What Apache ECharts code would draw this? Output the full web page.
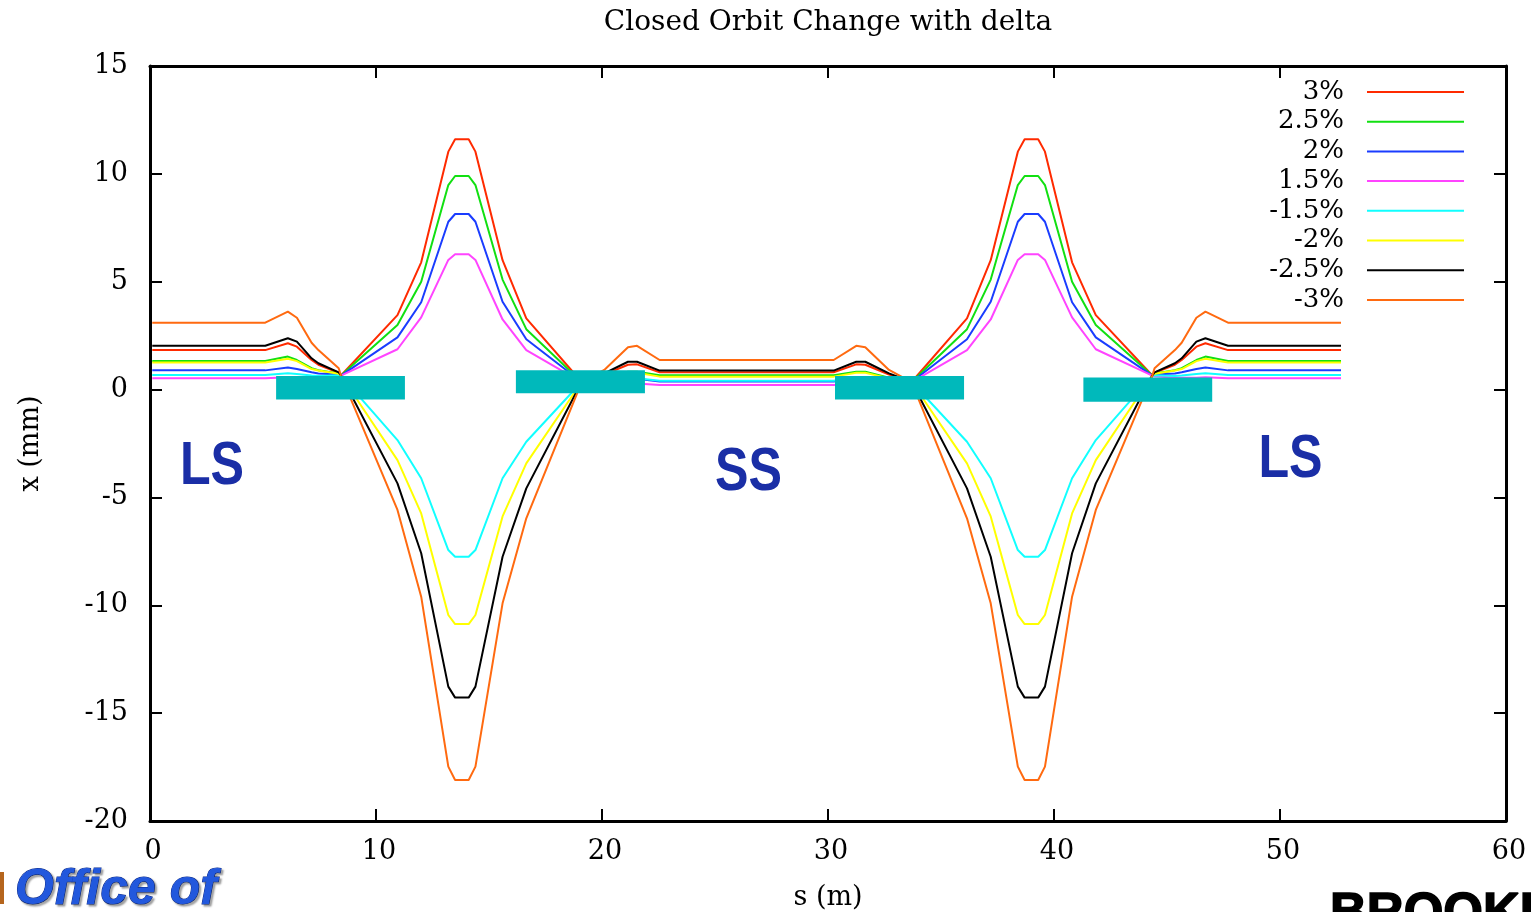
<!DOCTYPE html>
<html>
<head>
<meta charset="utf-8">
<script src="https://cdn.jsdelivr.net/npm/echarts@6/dist/echarts.min.js"></script>
<style>
html,body{margin:0;padding:0;background:#fff;}
#chart{width:1531px;height:912px;}
</style>
</head>
<body>
<div id="chart"></div>
<script>
// s positions (m) of the orbit sample points
const sPos = [0.1, 5.1, 6.1, 6.5, 7.15, 7.45, 8.35, 8.45, 10.95, 12.0, 13.2, 13.5, 14.1, 14.4, 15.6, 16.65, 19.1, 20.1, 21.15, 21.55, 22.55,
              30.25, 31.25, 31.65, 32.7, 33.7, 36.15, 37.2, 38.4, 38.7, 39.3, 39.6, 40.8, 41.85, 44.35, 44.45, 45.35, 45.65, 46.3, 46.7, 47.7, 52.7];

const seriesNames = ['3%', '2.5%', '2%', '1.5%', '-1.5%', '-2%', '-2.5%', '-3%'];

const x_p30 = [1.83, 1.83, 2.15, 1.99, 1.37, 1.15, 0.78, 0.65, 3.45, 5.9, 11.03, 11.6, 11.6, 11.03, 6.0, 3.3, 0.35, 0.70, 1.15, 1.17, 0.80,
               0.80, 1.17, 1.15, 0.70, 0.35, 3.3, 6.0, 11.03, 11.6, 11.6, 11.03, 5.9, 3.45, 0.65, 0.78, 1.15, 1.37, 1.99, 2.15, 1.83, 1.83];
const x_p25 = [1.32, 1.32, 1.53, 1.37, 0.99, 0.90, 0.74, 0.65, 2.99, 5.0, 9.48, 9.9, 9.9, 9.48, 5.1, 2.8, 0.35, 0.55, 0.83, 0.83, 0.66,
               0.66, 0.83, 0.83, 0.55, 0.35, 2.8, 5.1, 9.48, 9.9, 9.9, 9.48, 5.0, 2.99, 0.65, 0.74, 0.90, 0.99, 1.37, 1.53, 1.32, 1.32];
const x_p20 = [0.89, 0.89, 1.02, 0.95, 0.80, 0.75, 0.70, 0.65, 2.42, 4.05, 7.78, 8.14, 8.14, 7.78, 4.07, 2.33, 0.35, 0.42, 0.50, 0.50, 0.37,
               0.37, 0.50, 0.50, 0.42, 0.35, 2.33, 4.07, 7.78, 8.14, 8.14, 7.78, 4.05, 2.42, 0.65, 0.70, 0.75, 0.80, 0.95, 1.02, 0.89, 0.89];
const x_p15 = [0.52, 0.52, 0.57, 0.55, 0.55, 0.55, 0.62, 0.65, 1.87, 3.35, 6.01, 6.27, 6.27, 6.01, 3.25, 1.83, 0.35, 0.30, 0.28, 0.28, 0.21,
               0.21, 0.28, 0.28, 0.30, 0.35, 1.83, 3.25, 6.01, 6.27, 6.27, 6.01, 3.35, 1.87, 0.65, 0.62, 0.55, 0.55, 0.55, 0.57, 0.52, 0.52];
const x_m15 = [0.67, 0.67, 0.76, 0.72, 0.65, 0.63, 0.66, 0.65, -2.34, -4.11, -7.44, -7.75, -7.75, -7.44, -4.11, -2.42, 0.35, 0.42, 0.52, 0.52, 0.41,
               0.41, 0.52, 0.52, 0.42, 0.35, -2.42, -4.11, -7.44, -7.75, -7.75, -7.44, -4.11, -2.34, 0.65, 0.66, 0.63, 0.65, 0.72, 0.76, 0.67, 0.67];
const x_m20 = [1.25, 1.25, 1.43, 1.32, 0.95, 0.88, 0.73, 0.65, -3.27, -5.74, -10.45, -10.87, -10.87, -10.45, -5.88, -3.42, 0.35, 0.52, 0.78, 0.78, 0.60,
               0.60, 0.78, 0.78, 0.52, 0.35, -3.42, -5.88, -10.45, -10.87, -10.87, -10.45, -5.74, -3.27, 0.65, 0.73, 0.88, 0.95, 1.32, 1.43, 1.25, 1.25];
const x_m25 = [2.03, 2.03, 2.38, 2.22, 1.45, 1.22, 0.80, 0.65, -4.35, -7.59, -13.77, -14.28, -14.28, -13.77, -7.75, -4.58, 0.35, 0.75, 1.29, 1.29, 0.88,
               0.88, 1.29, 1.29, 0.75, 0.35, -4.58, -7.75, -13.77, -14.28, -14.28, -13.77, -7.59, -4.35, 0.65, 0.80, 1.22, 1.45, 2.22, 2.38, 2.03, 2.03];
const x_m30 = [3.10, 3.10, 3.61, 3.33, 2.17, 1.83, 0.99, 0.65, -5.58, -9.60, -17.48, -18.10, -18.10, -17.48, -9.91, -5.97, 0.35, 0.91, 1.96, 2.03, 1.37,
               1.37, 2.03, 1.96, 0.91, 0.35, -5.97, -9.91, -17.48, -18.10, -18.10, -17.48, -9.60, -5.58, 0.65, 0.99, 1.83, 2.17, 3.33, 3.61, 3.10, 3.10];

// magnet blocks: [s start, s end, x top, x bottom]
const magnets = [
  [5.58, 11.28, 0.63, -0.46],
  [16.19, 21.90, 0.90, -0.17],
  [30.31, 36.02, 0.63, -0.46],
  [41.30, 47.00, 0.56, -0.56]
];

const xTicks = [0, 10, 20, 30, 40, 50, 60];
const yTicks = [-20, -15, -10, -5, 0, 5, 10, 15];

const allValues = [x_p30, x_p25, x_p20, x_p15, x_m15, x_m20, x_m25, x_m30];
const colors = ['#ff2a00', '#11e011', '#1a3cff', '#ff44ff', '#11ffff', '#ffff00', '#000000', '#ff6a10'];

const serifFont = 'DejaVu Serif';

const chart = echarts.init(document.getElementById('chart'), null, {renderer: 'canvas'});

const lineSeries = seriesNames.map((name, i) => ({
  name: name,
  type: 'line',
  xAxisIndex: 0,
  yAxisIndex: 0,
  symbol: 'none',
  showSymbol: false,
  lineStyle: {width: 2, color: colors[i]},
  itemStyle: {color: colors[i]},
  z: 2,
  data: sPos.map((s, k) => [s, allValues[i][k]])
}));

const axisCommon = {
  type: 'value',
  axisLine: {show: true, onZero: false, lineStyle: {color: '#000', width: 3}},
  axisTick: {show: true, inside: true, length: 12, lineStyle: {color: '#000', width: 2}},
  splitLine: {show: false}
};

const option = {
  animation: false,
  backgroundColor: '#fff',
  grid: {left: 150, right: 25, top: 66, bottom: 91, containLabel: false, outerBoundsMode: 'none'},
  legend: {
    data: seriesNames.map(n => ({name: n, icon: 'rect'})),
    orient: 'vertical',
    right: 67,
    top: 79,
    align: 'right',
    padding: 0,
    itemWidth: 97,
    itemHeight: 2,
    itemGap: 3.7,
    selectedMode: false,
    textStyle: {fontFamily: serifFont, fontSize: 26, color: '#000', lineHeight: 26, padding: [0, 18, 0, 0]}
  },
  xAxis: [
    Object.assign({}, axisCommon, {
      position: 'bottom', min: xTicks[0], max: xTicks[xTicks.length - 1], interval: 10,
      name: 's (m)', nameLocation: 'middle', nameGap: 63,
      nameTextStyle: {fontFamily: serifFont, fontSize: 27, color: '#000'},
      axisLabel: {fontFamily: serifFont, fontSize: 27, color: '#000', margin: 17, padding: [0, 0, 0, 6]}
    }),
    Object.assign({}, axisCommon, {
      position: 'top', min: xTicks[0], max: xTicks[xTicks.length - 1], interval: 10,
      axisLabel: {show: false}
    })
  ],
  yAxis: [
    Object.assign({}, axisCommon, {
      position: 'left', min: yTicks[0], max: yTicks[yTicks.length - 1], interval: 5,
      name: 'x (mm)', nameLocation: 'middle', nameGap: 106, nameRotate: 90,
      nameTextStyle: {fontFamily: serifFont, fontSize: 27, color: '#000'},
      axisLabel: {fontFamily: serifFont, fontSize: 27, color: '#000', margin: 22}
    }),
    Object.assign({}, axisCommon, {
      position: 'right', min: yTicks[0], max: yTicks[yTicks.length - 1], interval: 5,
      axisLabel: {show: false}
    })
  ],
  series: lineSeries.concat([{
    name: 'magnets',
    type: 'custom',
    xAxisIndex: 0,
    yAxisIndex: 0,
    z: 5,
    encode: {x: [0, 1], y: [2, 3]},
    data: magnets,
    renderItem: function (params, api) {
      const p1 = api.coord([api.value(0), api.value(2)]);
      const p2 = api.coord([api.value(1), api.value(3)]);
      return {
        type: 'rect',
        shape: {x: p1[0], y: p1[1], width: p2[0] - p1[0], height: p2[1] - p1[1]},
        style: {fill: '#00b9bb'}
      };
    }
  }]),
  graphic: [
    {type: 'text', x: 828, y: 23, z: 10, style: {text: 'Closed Orbit Change with delta', font: '28px "DejaVu Serif"', fill: '#000', align: 'center', verticalAlign: 'middle'}},
    {type: 'text', x: 212, y: 467, scaleX: 0.81, z: 10, style: {text: 'LS', font: 'bold 62px "Liberation Sans"', fill: '#1a2ea6', align: 'center', verticalAlign: 'middle'}},
    {type: 'text', x: 748.5, y: 473, scaleX: 0.81, z: 10, style: {text: 'SS', font: 'bold 62px "Liberation Sans"', fill: '#1a2ea6', align: 'center', verticalAlign: 'middle'}},
    {type: 'text', x: 1290.5, y: 460, scaleX: 0.81, z: 10, style: {text: 'LS', font: 'bold 62px "Liberation Sans"', fill: '#1a2ea6', align: 'center', verticalAlign: 'middle'}},
    {type: 'rect', x: 0, y: 872, z: 10, shape: {width: 4, height: 32}, style: {fill: '#b5651d'}},
    {type: 'text', x: 15, y: 890, z: 10, style: {text: 'Office of', font: 'italic bold 50px "Liberation Sans"', fill: '#2258dd', stroke: '#0b2a8a', lineWidth: 1, align: 'left', verticalAlign: 'middle', textShadowColor: 'rgba(0,0,0,0.35)', textShadowBlur: 2, textShadowOffsetX: 2, textShadowOffsetY: 2}},
    {type: 'text', x: 1330, y: 889, z: 10, style: {text: 'BROOKHAVEN', font: 'bold 51px "Liberation Sans"', fill: '#000', stroke: '#000', lineWidth: 1.5, align: 'left', verticalAlign: 'top'}}
  ]
};

chart.setOption(option);
</script>
</body>
</html>
